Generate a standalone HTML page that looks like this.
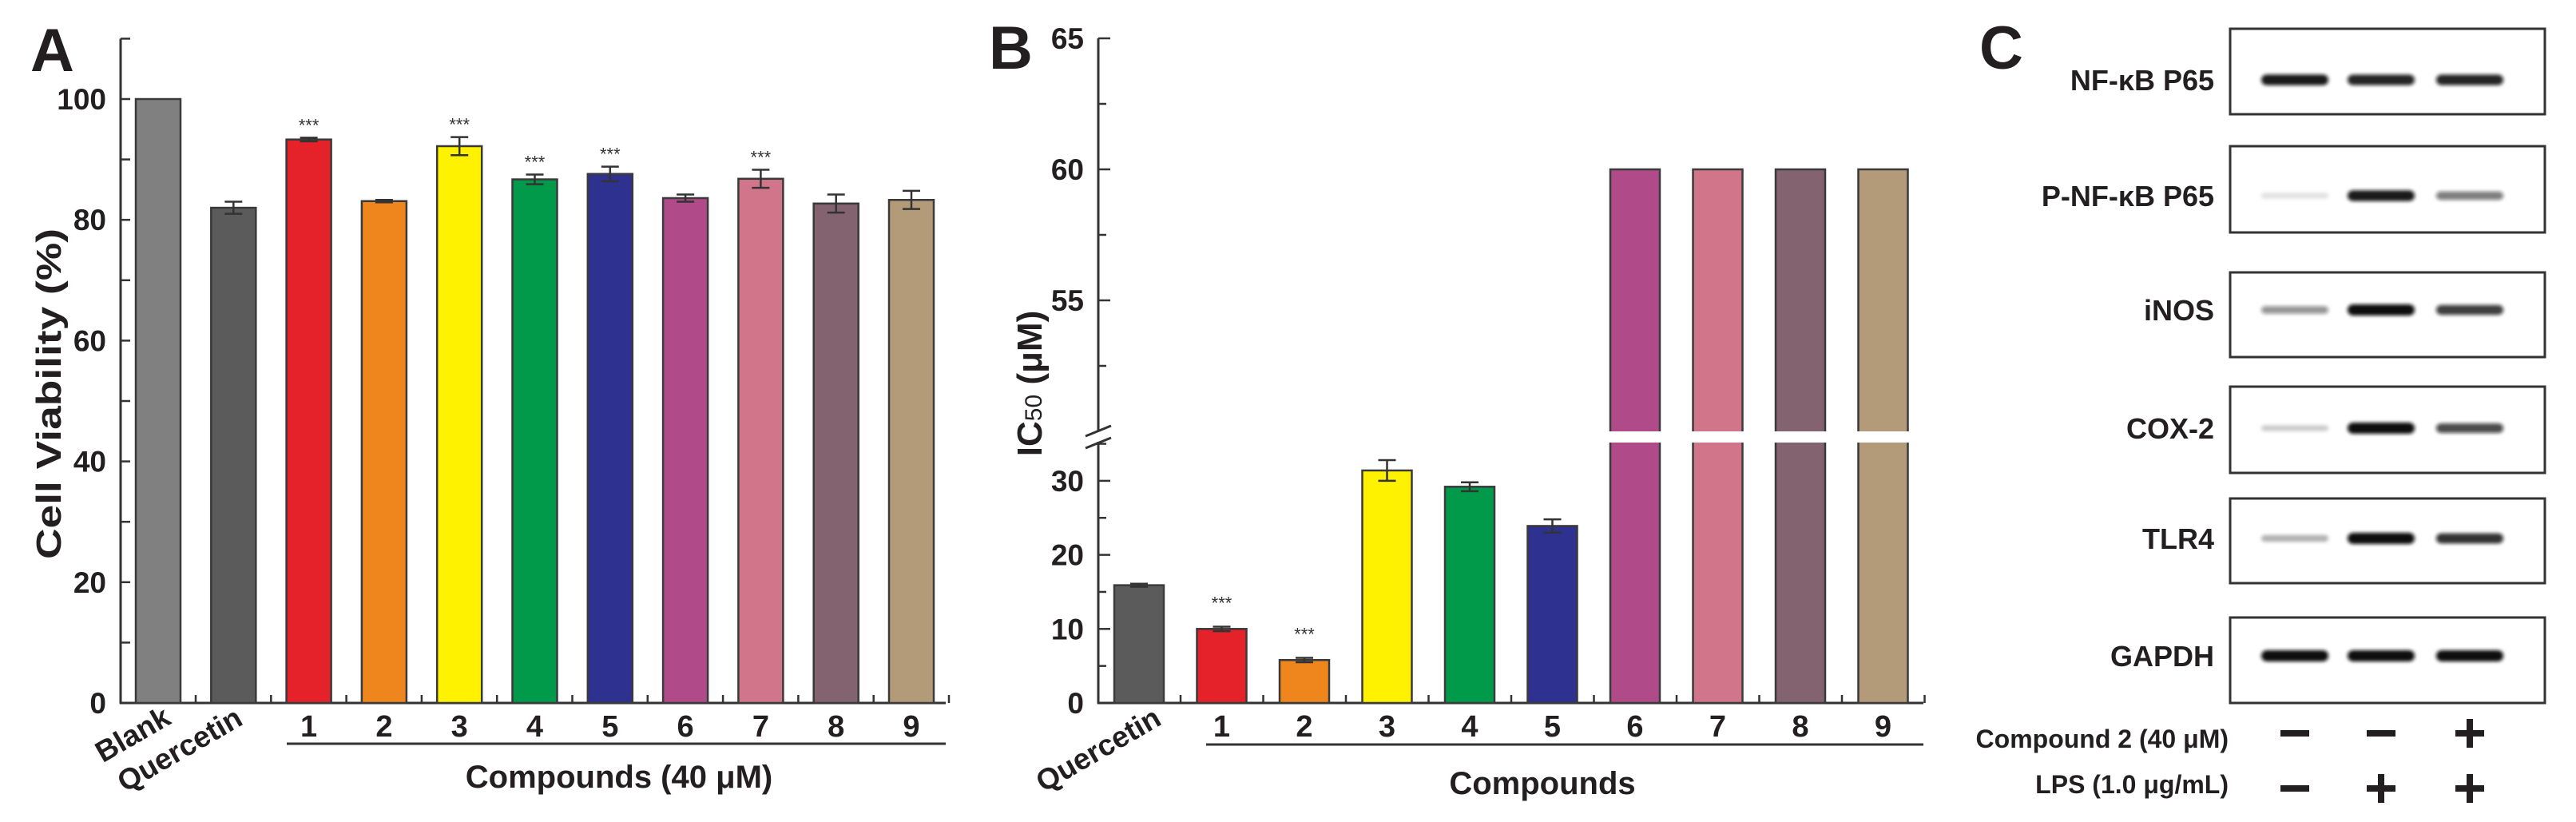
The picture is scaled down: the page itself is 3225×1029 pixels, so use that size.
<!DOCTYPE html>
<html><head><meta charset="utf-8"><style>
html,body{margin:0;padding:0;background:#fff;}
svg{display:block;font-family:"Liberation Sans",Arial,sans-serif;font-weight:bold;}
</style></head><body>
<svg id="fig" width="3225" height="1029" viewBox="0 0 3225 1029" xmlns="http://www.w3.org/2000/svg">
<rect width="3225" height="1029" fill="#fff"/>
<g id="pa"></g>
<g id="pb"></g>
<g id="pc"></g>
</svg>
<script>
// ---- Panel A data ----
const catsA = ["Blank","Quercetin","1","2","3","4","5","6","7","8","9"];
const valsA = [100, 82.0, 93.3, 83.1, 92.2, 86.7, 87.6, 83.6, 86.8, 82.7, 83.3];
const errsA = [0, 1.0, 0.3, 0.2, 1.5, 0.8, 1.2, 0.6, 1.5, 1.5, 1.5];
const sigA = ["", "", "***", "", "***", "***", "***", "", "***", "", ""];
const ticksA = [0, 20, 40, 60, 80, 100];
const colorsA = ["#808080","#5b5b5b","#e52129","#ef861d","#fff200","#009a4a","#2e3190","#b04a88","#d0758a","#82636f","#b39a78"];
// ---- Panel B data ----
const catsB = ["Quercetin","1","2","3","4","5","6","7","8","9"];
const valsB = [15.9, 10.0, 5.8, 31.4, 29.2, 23.9, 60, 60, 60, 60];
const errsB = [0.2, 0.3, 0.3, 1.4, 0.6, 0.9, 0, 0, 0, 0];
const sigB = ["", "***", "***", "", "", "", "", "", "", ""];
const ticksBLow = [0, 10, 20, 30];
const ticksBHigh = [55, 60, 65];
const colorsB = ["#5b5b5b","#e52129","#ef861d","#fff200","#009a4a","#2e3190","#b04a88","#d0758a","#82636f","#b39a78"];
// ---- Panel C data ----
const blotLabels = ["NF-\u03BAB P65","P-NF-\u03BAB P65","iNOS","COX-2","TLR4","GAPDH"];
const blotIntensity = [[0.95,0.9,0.9],[0.12,0.95,0.55],[0.45,1,0.8],[0.2,1,0.75],[0.3,1,0.85],[1,1,1]];
const compSigns = ["-","-","+"];
const lpsSigns = ["-","+","+"];

const NS="http://www.w3.org/2000/svg";
function mk(p,tag,at,txt){const e=document.createElementNS(NS,tag);for(const k in at)e.setAttribute(k,at[k]);if(txt!==undefined)e.textContent=txt;p.appendChild(e);return e;}

// ===== Panel A =====
(function(){
const g=document.getElementById('pa');
const x0=151, y0=880, ppu=7.56, x1=1184;
const ya=v=>y0-v*ppu;
const xa=i=>198+i*94.3;
let t=mk(g,'text',{x:38,y:89,'font-size':76,fill:'#231f20'},'A');


let l=mk(g,'line',{x1:x0,y1:ya(110),x2:x0,y2:y0+1,stroke:'#333','stroke-width':3});


l=mk(g,'line',{x1:x0-1,y1:y0,x2:x1,y2:y0,stroke:'#333','stroke-width':3});


for(let v=0;v<=110;v+=10){mk(g,'line',{x1:x0,y1:ya(v),x2:x0+12,y2:ya(v),stroke:'#333','stroke-width':2.5});}
ticksA.forEach(v=>{const e=mk(g,'text',{x:133,y:ya(v)+13,'font-size':37,'text-anchor':'end',fill:'#231f20'},String(v));

});
for(let i=0;i<catsA.length;i++){mk(g,'line',{x1:xa(i)+47,y1:y0,x2:xa(i)+47,y2:y0-10,stroke:'#333','stroke-width':2.5});}
catsA.forEach((c,i)=>{
 const r=mk(g,'rect',{x:xa(i)-28,y:ya(valsA[i]),width:56,height:y0-ya(valsA[i]),fill:colorsA[i],stroke:'#3a3a3a','stroke-width':2.5});
 
 
 if(errsA[i]>0){const hi=ya(valsA[i]+errsA[i]),lo=ya(valsA[i]-errsA[i]),x=xa(i);
  mk(g,'line',{x1:x,y1:hi,x2:x,y2:lo,stroke:'#333','stroke-width':2.5});
  mk(g,'line',{x1:x-11,y1:hi,x2:x+11,y2:hi,stroke:'#333','stroke-width':2.5});
  mk(g,'line',{x1:x-11,y1:lo,x2:x+11,y2:lo,stroke:'#333','stroke-width':2.5});}
 if(sigA[i]){const s=mk(g,'text',{x:xa(i),y:ya(valsA[i]+errsA[i])-8,'font-size':22,'font-weight':'normal','text-anchor':'middle',fill:'#333'},sigA[i]);
  
  }
 if(i>=2){const e=mk(g,'text',{x:xa(i),y:922,'font-size':38,'text-anchor':'middle',fill:'#231f20'},c);
  
  }
});
let e=mk(g,'text',{x:0,y:0,'font-size':37,'text-anchor':'end',fill:'#231f20',transform:'translate(216,905) rotate(-30)'},'Blank');


e=mk(g,'text',{x:0,y:0,'font-size':37,'text-anchor':'end',fill:'#231f20',transform:'translate(306,906) rotate(-30)'},'Quercetin');


mk(g,'line',{x1:359,y1:931,x2:1184,y2:931,stroke:'#333','stroke-width':3});
e=mk(g,'text',{x:775,y:986,'font-size':40,'text-anchor':'middle',fill:'#231f20'},'Compounds (40 \u03BCM)');


e=mk(g,'text',{x:0,y:0,'font-size':44,'text-anchor':'middle',fill:'#231f20',transform:'translate(76,493) rotate(-90)',textLength:414,lengthAdjust:'spacingAndGlyphs'},'Cell Viability  (%)');


})();

// ===== Panel B =====
(function(){
const g=document.getElementById('pb');
const x0=1375,y0=880,lowP=9.27,highP=32.8;
const yb=v=> v<=40 ? y0-v*lowP : 212+(60-v)*highP;
const xb=i=>1426+i*103.5;
const x1=2408;
let t=mk(g,'text',{x:1238,y:86,'font-size':76,fill:'#231f20'},'B');


let l=mk(g,'line',{x1:x0,y1:48,x2:x0,y2:539,stroke:'#333','stroke-width':3});


l=mk(g,'line',{x1:x0,y1:553,x2:x0,y2:y0+1,stroke:'#333','stroke-width':3});


mk(g,'line',{x1:x0-16,y1:546,x2:x0+16,y2:533,stroke:'#333','stroke-width':3});
mk(g,'line',{x1:x0-16,y1:561,x2:x0+16,y2:548,stroke:'#333','stroke-width':3});
l=mk(g,'line',{x1:x0-1,y1:y0,x2:x1,y2:y0,stroke:'#333','stroke-width':3});


for(let v=0;v<=35;v+=5){mk(g,'line',{x1:x0,y1:yb(v),x2:x0+(v%10?10:15),y2:yb(v),stroke:'#333','stroke-width':2.5});}
for(let v=52.5;v<=65;v+=2.5){mk(g,'line',{x1:x0,y1:yb(v),x2:x0+(v%5?10:15),y2:yb(v),stroke:'#333','stroke-width':2.5});}
ticksBLow.concat(ticksBHigh).forEach(v=>{const e=mk(g,'text',{x:1357,y:yb(v)+13,'font-size':37,'text-anchor':'end',fill:'#231f20'},String(v));
 
 });
for(let i=0;i<catsB.length;i++){mk(g,'line',{x1:xb(i)+52,y1:y0,x2:xb(i)+52,y2:y0-10,stroke:'#333','stroke-width':2.5});}
catsB.forEach((c,i)=>{
 const v=valsB[i],x=xb(i);
 const r=mk(g,'rect',{x:x-31,y:yb(v),width:62,height:y0-yb(v),fill:colorsB[i],stroke:'#3a3a3a','stroke-width':2.5});
 
 
 if(v>40){mk(g,'rect',{x:x-33,y:540,width:66,height:14,fill:'#fff'});}
 if(errsB[i]>0){const hi=yb(v+errsB[i]),lo=yb(v-errsB[i]);
  mk(g,'line',{x1:x,y1:hi,x2:x,y2:lo,stroke:'#333','stroke-width':2.5});
  mk(g,'line',{x1:x-11,y1:hi,x2:x+11,y2:hi,stroke:'#333','stroke-width':2.5});
  mk(g,'line',{x1:x-11,y1:lo,x2:x+11,y2:lo,stroke:'#333','stroke-width':2.5});}
 if(sigB[i]){const s=mk(g,'text',{x:x,y:yb(v+errsB[i])-22,'font-size':22,'font-weight':'normal','text-anchor':'middle',fill:'#333'},sigB[i]);
  
  }
 if(i>=1){const e=mk(g,'text',{x:x,y:922,'font-size':38,'text-anchor':'middle',fill:'#231f20'},c);
  
  }
});
let e=mk(g,'text',{x:0,y:0,'font-size':37,'text-anchor':'end',fill:'#231f20',transform:'translate(1456,906) rotate(-30)'},'Quercetin');


mk(g,'line',{x1:1510,y1:932,x2:2408,y2:932,stroke:'#333','stroke-width':3});
e=mk(g,'text',{x:1931,y:994,'font-size':40,'text-anchor':'middle',fill:'#231f20'},'Compounds');


e=mk(g,'text',{x:0,y:0,'font-size':44,'text-anchor':'middle',fill:'#231f20',transform:'translate(1304,480) rotate(-90)'});


mk(e,'tspan',{},'IC');mk(e,'tspan',{'font-size':30,'font-weight':'normal'},'50');mk(e,'tspan',{},' (\u03BCM)');
})();

// ===== Panel C =====
(function(){
const g=document.getElementById('pc');
let t=mk(g,'text',{x:2478,y:86,'font-size':76,fill:'#231f20'},'C');


const boxes=[[36,143],[183,291],[341,447],[484,592],[624,730],[773,880]];
const bandY=[100,245,388,536,674,821];
const lanes=[2873,2981,3092];
const defs=mk(document.getElementById('fig'),'defs',{});
const f=mk(defs,'filter',{id:'blur',x:'-20%',y:'-100%',width:'140%',height:'300%'});
mk(f,'feGaussianBlur',{stdDeviation:'2.5 2'});
blotLabels.forEach((lab,r)=>{
 const b=mk(g,'rect',{x:2792,y:boxes[r][0],width:394,height:boxes[r][1]-boxes[r][0],fill:'#fff',stroke:'#333','stroke-width':3});
 
 
 const e=mk(g,'text',{x:2772,y:bandY[r]+13,'font-size':36,'text-anchor':'end',fill:'#231f20'},lab);
 
 
 lanes.forEach((lx,j)=>{
  const a=blotIntensity[r][j];
  const h=6+8*a;
  const band=mk(g,'rect',{x:lx-42,y:bandY[r]-h/2,width:84,height:h,rx:h/2,fill:'#111','fill-opacity':a,filter:'url(#blur)'});
  
  
 });
});
let e=mk(g,'text',{x:2790,y:936,'font-size':32,'text-anchor':'end',fill:'#231f20'},'Compound 2 (40 \u03BCM)');


e=mk(g,'text',{x:2790,y:993,'font-size':32,'text-anchor':'end',fill:'#231f20'},'LPS (1.0 \u03BCg/mL)');


function sign(s,x,y){
 mk(g,'rect',{x:x-18,y:y-4,width:36,height:8,fill:'#231f20'});
 if(s==='+')mk(g,'rect',{x:x-4,y:y-18,width:8,height:36,fill:'#231f20'});
}
compSigns.forEach((s,j)=>sign(s,lanes[j],918));
lpsSigns.forEach((s,j)=>sign(s,lanes[j],987));
})();
</script>
</body></html>
